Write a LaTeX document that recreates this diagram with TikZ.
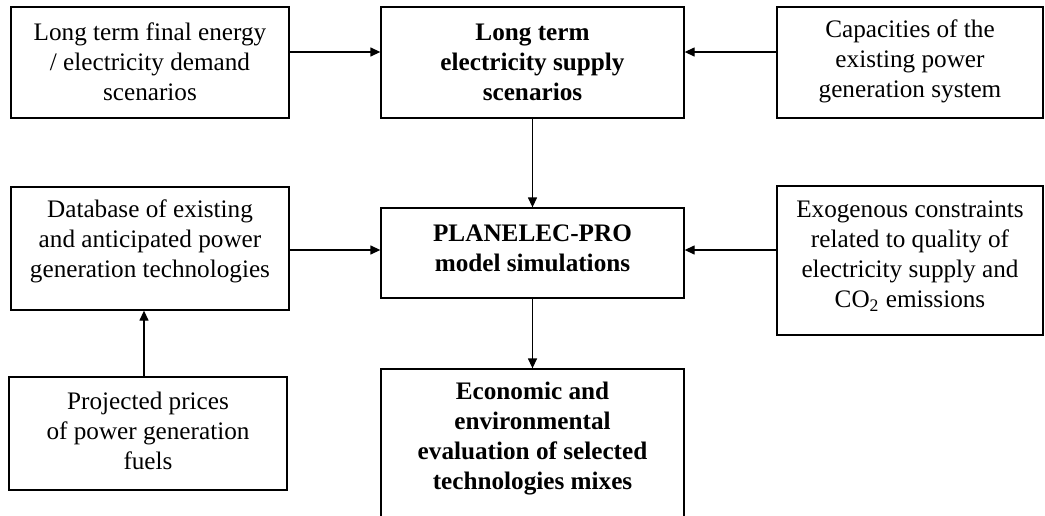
\documentclass[tikz,border=0pt]{standalone}
\usepackage{fontspec}
\setmainfont{Liberation Serif}
\usetikzlibrary{arrows.meta}
\begin{document}
\begin{tikzpicture}[x=0.5pt,y=-0.5pt,
  box/.style={draw, line width=0.65pt, inner sep=0pt},
  txt/.style={align=center, font=\fontsize{12.6}{15}\selectfont, inner sep=0pt},
  btxt/.style={align=center, font=\fontsize{12.6}{15}\selectfont\bfseries, inner sep=0pt},
  arr/.style={line width=0.65pt, -{Triangle[length=5pt,width=4.5pt]}}]
\useasboundingbox (0,0) rectangle (1045,515);
\clip (0,0) rectangle (1045,515);
% boxes
\node[box, minimum width=139pt,   minimum height=55.5pt] (dem)  at (150,62.5) {};
\node[box, minimum width=151.5pt, minimum height=55.5pt] (sup)  at (532.5,62.5) {};
\node[box, minimum width=133pt,   minimum height=55.5pt] (cap)  at (910,62.5) {};
\node[box, minimum width=139pt,   minimum height=61.5pt] (db)   at (150,248.5) {};
\node[box, minimum width=151.5pt, minimum height=45pt]   (pl)   at (532.5,253) {};
\node[box, minimum width=133pt,   minimum height=74.5pt] (exo)  at (910,260.5) {};
\node[box, minimum width=139pt,   minimum height=56.5pt] (proj) at (148,433.5) {};
\node[box, minimum width=151.5pt, minimum height=88pt]   (eco)  at (532.5,457) {};
% texts
\node[txt]  (demt)  at (150,62)    {Long term final energy\\/ electricity demand\\scenarios};
\node[btxt] (supt)  at (532.5,62)  {Long term\\electricity supply\\scenarios};
\node[txt]  (capt)  at (910,61)    {Capacities of the\\existing power\\generation system};
\node[txt]  (dbt)   at (150,241)   {Database of existing\\and anticipated power\\generation technologies};
\node[btxt] (plt)   at (532.5,248.5) {PLANELEC-PRO\\model simulations};
\node[txt]  (exot)  at (910,256)   {Exogenous constraints\\related to quality of\\electricity supply and\\CO\textsubscript{2} emissions};
\node[txt]  (projt) at (148,431)   {Projected prices\\of power generation\\fuels};
\node[btxt] (ecot)  at (532.5,438.5) {Economic and\\environmental\\evaluation of selected\\technologies mixes};
% connectors
\coordinate (r1) at (0,52);
\coordinate (r2) at (0,250);
\coordinate (c1) at (144,0);
\draw[arr] (dem.east |- r1) -- (sup.west |- r1);
\draw[arr] (cap.west |- r1) -- (sup.east |- r1);
\draw[arr] (db.east |- r2) -- (pl.west |- r2);
\draw[arr] (exo.west |- r2) -- (pl.east |- r2);
\draw[arr] (sup.south) -- (pl.north);
\draw[arr] (pl.south) -- (eco.north);
\draw[arr] (proj.north -| c1) -- (db.south -| c1);
\end{tikzpicture}
\end{document}
